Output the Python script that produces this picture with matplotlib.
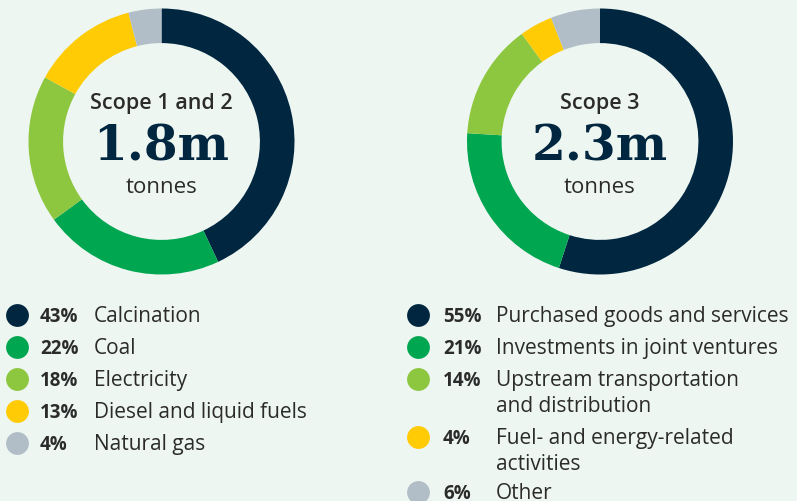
import matplotlib
matplotlib.use("Agg")
import matplotlib.pyplot as plt

# Data
scope12_labels = ["Calcination", "Coal", "Electricity", "Diesel and liquid fuels", "Natural gas"]
scope12_values = [43, 22, 18, 13, 4]
scope3_labels = ["Purchased goods and services", "Investments in joint ventures",
                 "Upstream transportation\nand distribution", "Fuel- and energy-related\nactivities", "Other"]
scope3_values = [55, 21, 14, 4, 6]
colors = ["#002640", "#00a650", "#8dc63f", "#ffcb05", "#b1bec8"]

titles = ["Scope 1 and 2", "Scope 3"]
totals = ["1.8m", "2.3m"]

BG = "#eef6f1"
TXT = "#2b2b2b"
NAVY = "#002640"
SANS = ["Open Sans", "DejaVu Sans"]

W, H = 797, 502
fig = plt.figure(figsize=(W / 100, H / 100), dpi=100)
fig.patch.set_facecolor(BG)

# overlay axes in pixel coordinates for text / legend
ov = fig.add_axes([0, 0, 1, 1])
ov.set_xlim(0, W)
ov.set_ylim(H, 0)
ov.axis("off")


def donut(cx, cy, r, values, title, total):
    ax = fig.add_axes([(cx - r) / W, (H - cy - r) / H, 2 * r / W, 2 * r / H])
    ax.pie(values, colors=colors, startangle=90, counterclock=False,
           wedgeprops=dict(width=0.26, linewidth=0))
    ax.set_xlim(-1, 1)
    ax.set_ylim(-1, 1)
    ax.axis("off")
    ov.text(cx, cy - 39, title, ha="center", va="center", fontsize=15.5,
            fontweight="semibold", color=TXT, family=SANS)
    ov.text(cx, cy + 5, total, ha="center", va="center", fontsize=35,
            fontweight="bold", color=NAVY, family=["DejaVu Serif"])
    ov.text(cx, cy + 45, "tonnes", ha="center", va="center", fontsize=16,
            color=TXT, family=SANS)


donut(161.5, 142.5, 133, scope12_values, titles[0], totals[0])
donut(600, 142.5, 133, scope3_values, titles[1], totals[1])


def legend(x0, rows_y, values, labels, pct_dx, lab_dx):
    for y, v, lab, c in zip(rows_y, values, labels, colors):
        ov.scatter([x0], [y], s=270, color=c, linewidths=0)
        ov.text(x0 + pct_dx, y + 6.5, f"{v}%", ha="left", va="baseline", fontsize=13.5,
                fontweight="bold", color=TXT, family=SANS)
        for i, line in enumerate(lab.split("\n")):
            ov.text(x0 + lab_dx, y + 6.5 + 26 * i, line, ha="left", va="baseline",
                    fontsize=15, color=TXT, family=SANS)


legend(17, [316, 348, 380, 412, 444], scope12_values, scope12_labels, 23, 77)
legend(418, [316, 348, 380, 438, 493], scope3_values, scope3_labels, 25, 78)

fig.savefig("out.png", dpi=100, facecolor=BG)
